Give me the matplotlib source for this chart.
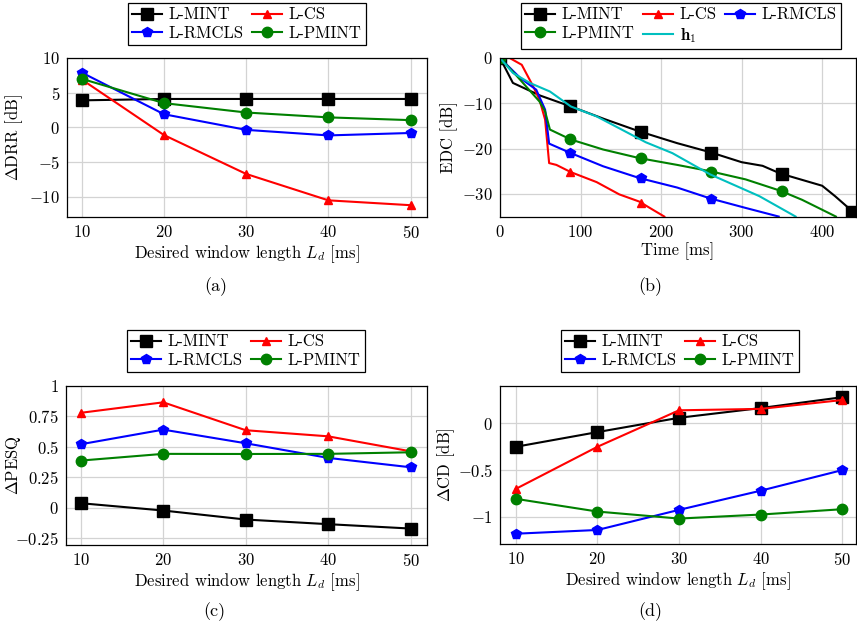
import numpy as np
import matplotlib
matplotlib.use("Agg")
import matplotlib.pyplot as plt
from matplotlib.ticker import FuncFormatter

plt.rcParams["font.family"] = "serif"
plt.rcParams["font.serif"] = ["cmr10"]
plt.rcParams["mathtext.fontset"] = "cm"
plt.rcParams["axes.formatter.use_mathtext"] = True
plt.rcParams["font.size"] = 12

# window lengths (ms)
Ld = [10, 20, 30, 40, 50]

# (a) delta DRR [dB]
drr_mint = [3.9, 4.1, 4.1, 4.1, 4.1]
drr_cs = [6.9, -1.1, -6.7, -10.5, -11.2]
drr_rmcls = [7.9, 1.9, -0.35, -1.15, -0.8]
drr_pmint = [7.0, 3.5, 2.15, 1.45, 1.05]

# (c) delta PESQ
pesq_mint = [0.038, -0.022, -0.096, -0.134, -0.17]
pesq_cs = [0.78, 0.866, 0.637, 0.587, 0.464]
pesq_rmcls = [0.522, 0.642, 0.53, 0.41, 0.333]
pesq_pmint = [0.388, 0.443, 0.442, 0.443, 0.456]

# (d) delta CD [dB]
cd_mint = [-0.25, -0.093, 0.06, 0.164, 0.28]
cd_cs = [-0.70, -0.25, 0.14, 0.155, 0.25]
cd_rmcls = [-1.18, -1.14, -0.925, -0.72, -0.50]
cd_pmint = [-0.807, -0.943, -1.018, -0.975, -0.918]

# (b) energy decay curves: time [ms], level [dB]
edc_mint_t = [0, 16, 50, 88, 130, 173, 220, 261, 300, 326, 348, 375, 400, 416, 434, 442]
edc_mint_db = [0, -5.5, -8.3, -10.7, -13.5, -16.2, -18.8, -20.8, -23.0, -23.8, -25.5, -26.9, -28.2, -30.5, -33.3, -35]
edc_cs_t = [0, 12, 27, 41, 49, 56, 61, 70, 88, 120, 148, 173, 186, 204]
edc_cs_db = [0, 0, -1.5, -6.2, -9.2, -13.6, -23.2, -23.6, -25.2, -27.4, -30.1, -31.7, -33.1, -35]
edc_rmcls_t = [0, 25, 45, 56, 61, 88, 128, 173, 220, 261, 305, 346]
edc_rmcls_db = [0, -4.4, -7.0, -11.4, -18.9, -21.0, -23.9, -26.5, -28.6, -31.0, -33.1, -35]
edc_pmint_t = [0, 21, 49, 56, 62, 88, 128, 173, 220, 261, 305, 348, 375, 400, 417]
edc_pmint_db = [0, -4.0, -9.6, -11.8, -15.8, -18.0, -20.2, -22.1, -23.6, -25.0, -26.8, -29.3, -31.3, -33.5, -35]
edc_h1_t = [0, 16, 37, 62, 88, 120, 150, 181, 214, 261, 322, 367]
edc_h1_db = [0, -3.3, -5.5, -7.4, -10.7, -12.9, -15.7, -18.6, -21.0, -25.7, -30.5, -35]
edc_mark_t = [0, 87.5, 175, 262.5, 350, 437.5]

names = ["L-MINT", "L-CS", "L-RMCLS", "L-PMINT"]
colors = ["black", "red", "blue", "green"]
markers = ["s", "^", "p", "o"]
msizes = [8, 6, 7, 7.5]

fig = plt.figure(figsize=(8.57, 6.32), dpi=100)
W, H = 857.0, 632.0


def add_ax(l, t, r, b):
    return fig.add_axes([l / W, 1 - b / H, (r - l) / W, (b - t) / H])


ax_a = add_ax(67, 58, 427, 217)
ax_b = add_ax(500, 58, 856, 217)
ax_c = add_ax(66, 386, 427, 545)
ax_d = add_ax(500, 386, 856, 544)

fmt = FuncFormatter(lambda v, p: "$%g$" % v)


def style(ax):
    ax.grid(True, color="#d3d3d3", lw=0.9)
    ax.set_axisbelow(True)
    ax.tick_params(length=0, pad=5)
    ax.yaxis.set_major_formatter(fmt)
    ax.xaxis.set_major_formatter(fmt)
    for s in ax.spines.values():
        s.set_linewidth(0.9)


def ylab(ax, text, px):
    # px = right edge of the rotated label, in figure pixels
    ax.set_ylabel(text)
    bb = ax.get_position()
    ax.yaxis.set_label_coords((px / W - bb.x0) / bb.width, 0.5)


def legend(ax, handles, labels, ncol, cx, top):
    # matplotlib fills legends column by column; reorder so rows read left to right
    nrow = int(np.ceil(len(handles) / ncol))
    order = [r * ncol + c for c in range(ncol) for r in range(nrow) if r * ncol + c < len(handles)]
    leg = ax.legend([handles[i] for i in order], [labels[i] for i in order],
                    ncol=ncol, loc="upper center", borderaxespad=0,
                    bbox_to_anchor=(cx / W, 1 - top / H), bbox_transform=fig.transFigure,
                    fancybox=False, edgecolor="black", framealpha=1,
                    handlelength=1.8, handletextpad=0.4, columnspacing=0.5,
                    borderpad=0.25, labelspacing=0.2, fontsize=12)
    leg.get_frame().set_linewidth(0.9)


series = {
    ax_a: [drr_mint, drr_cs, drr_rmcls, drr_pmint],
    ax_c: [pesq_mint, pesq_cs, pesq_rmcls, pesq_pmint],
    ax_d: [cd_mint, cd_cs, cd_rmcls, cd_pmint],
}
for ax, ys in series.items():
    for y, c, m, ms in zip(ys, colors, markers, msizes):
        ax.plot(Ld, y, color=c, marker=m, ms=ms, lw=1.5)
    style(ax)
    ax.set_xticks(Ld)
    ax.set_xlabel(r"Desired window length $L_d$ [ms]", labelpad=2)

ax_a.set_xlim(8.2, 52.0)
ax_a.set_ylim(-12.9, 10)
ax_a.set_yticks([-10, -5, 0, 5, 10])
ylab(ax_a, r"$\Delta$DRR [dB]", 25)
legend(ax_a, ax_a.get_lines(), names, 2, 247, 3)

ax_c.set_xlim(8.2, 52.0)
ax_c.set_ylim(-0.305, 1)
ax_c.set_yticks([-0.25, 0, 0.25, 0.5, 0.75, 1])
ylab(ax_c, r"$\Delta$PESQ", 23)
legend(ax_c, ax_c.get_lines(), names, 2, 246, 330)

ax_d.set_xlim(8.05, 51.7)
ax_d.set_ylim(-1.29, 0.40)
ax_d.set_yticks([-1, -0.5, 0])
ylab(ax_d, r"$\Delta$CD [dB]", 457)
legend(ax_d, ax_d.get_lines(), names, 2, 680, 330)

# (b) EDC
edc = [(edc_mint_t, edc_mint_db), (edc_cs_t, edc_cs_db),
       (edc_rmcls_t, edc_rmcls_db), (edc_pmint_t, edc_pmint_db)]
hs = []
for (t, d), c, m, ms in zip(edc, colors, markers, msizes):
    ax_b.plot(t, d, color=c, lw=1.5)
    mt = [x for x in edc_mark_t if x <= t[-1]]
    ax_b.plot(mt, np.interp(mt, t, d), ls="none", color=c, marker=m, ms=ms)
    h, = ax_b.plot([], [], color=c, marker=m, ms=ms, lw=1.5)
    hs.append(h)
h, = ax_b.plot(edc_h1_t, edc_h1_db, color="#00bfbf", lw=1.5)
hs.append(h)
style(ax_b)
ax_b.set_xlim(0, 442)
ax_b.set_ylim(-35.1, 0)
ax_b.set_xticks([0, 100, 200, 300, 400])
ax_b.set_yticks([-30, -20, -10, 0])
ax_b.set_xlabel("Time [ms]", labelpad=2)
ylab(ax_b, "EDC [dB]", 458)
legend(ax_b, hs, names + [r"$\mathbf{h}_1$"], 3, 681, 3)

for txt, x, y in [("(a)", 216, 287), ("(b)", 650, 287), ("(c)", 214, 612), ("(d)", 650, 612)]:
    fig.text(x / W, 1 - y / H, txt, ha="center", va="center", fontsize=13)

fig.savefig("out.png", dpi=100)
